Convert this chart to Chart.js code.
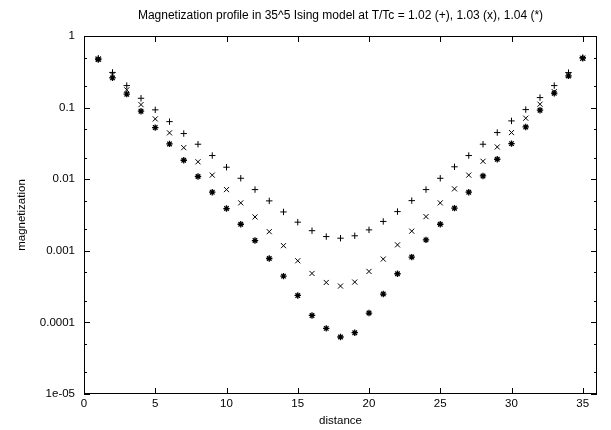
<!DOCTYPE html>
<html>
<head>
<meta charset="utf-8">
<title>Magnetization profile</title>
<script src="https://cdn.jsdelivr.net/npm/chart.js@4.4.1/dist/chart.umd.min.js"></script>
<style>
  html, body { margin: 0; padding: 0; background: #fff; }
  canvas { display: block; }
</style>
</head>
<body>
<canvas id="magChart" width="611" height="430"></canvas>
<script>
// distance from the wall
const distance = [1, 2, 3, 4, 5, 6, 7, 8, 9, 10, 11, 12, 13, 14, 15, 16, 17, 18,
  19, 20, 21, 22, 23, 24, 25, 26, 27, 28, 29, 30, 31, 32, 33, 34, 35];

// T/Tc = 1.02 (+)
const magPlus = [0.49, 0.31, 0.203, 0.135, 0.093, 0.0637, 0.0434, 0.0308, 0.0214,
  0.0147, 0.0103, 0.00716, 0.00498, 0.00349, 0.00251, 0.00191, 0.00158, 0.0015,
  0.00162, 0.00196, 0.00257, 0.00353, 0.00502, 0.00716, 0.0103, 0.0149, 0.0214,
  0.0308, 0.0448, 0.0652, 0.0938, 0.138, 0.203, 0.308, 0.5];

// T/Tc = 1.03 (x)
const magCross = [0.48, 0.286, 0.177, 0.11, 0.0695, 0.0444, 0.0276, 0.0175, 0.0114,
  0.00716, 0.00467, 0.00297, 0.00185, 0.00118, 0.000726, 0.000483, 0.000361, 0.000322,
  0.000366, 0.000515, 0.000766, 0.00121, 0.00188, 0.003, 0.00467, 0.00733, 0.0114,
  0.0178, 0.0282, 0.0448, 0.0711, 0.1115, 0.167, 0.286, 0.49];

// T/Tc = 1.04 (*)
const magStar = [0.47, 0.26, 0.154, 0.089, 0.0526, 0.0311, 0.0184, 0.0109, 0.00658,
  0.00389, 0.00235, 0.00139, 0.000781, 0.000443, 0.000238, 0.000125, 0.0000825, 0.0000625,
  0.0000718, 0.000135, 0.000249, 0.000478, 0.000817, 0.00142, 0.00235, 0.00394, 0.00658,
  0.0111, 0.019, 0.0314, 0.0537, 0.092, 0.159, 0.277, 0.49];

const xTicks = [0, 5, 10, 15, 20, 25, 30, 35];
const yMajor = [1, 0.1, 0.01, 0.001, 0.0001, 0.00001];
const yLabels = ['1', '0.1', '0.01', '0.001', '0.0001', '1e-05'];
const yMinor = [0.5, 0.2, 0.05, 0.02, 0.005, 0.002, 0.0005, 0.0002, 0.00005, 0.00002];

const titleText = 'Magnetization profile in 35^5 Ising model at T/Tc = 1.02 (+), 1.03 (x), 1.04 (*)';

const FONT = '"Liberation Sans", Arial, Helvetica, sans-serif';
const INK = '#000';

function points(ys) {
  return distance.map((d, i) => ({ x: d, y: ys[i] }));
}

// frame with inward tick marks on all four sides, title centred over the plot
const framePlugin = {
  id: 'frame',
  afterDraw(chart) {
    const { ctx, chartArea: a, scales } = chart;
    const xs = scales.x, ys = scales.y;
    ctx.save();
    ctx.strokeStyle = INK;
    ctx.lineWidth = 1;
    ctx.strokeRect(a.left + 0.5, a.top + 0.5, a.right - a.left - 1, a.bottom - a.top - 1);
    ctx.beginPath();
    xTicks.forEach(v => {
      const px = Math.round(xs.getPixelForValue(v)) + 0.5;
      ctx.moveTo(px, a.bottom); ctx.lineTo(px, a.bottom - 6);
      ctx.moveTo(px, a.top); ctx.lineTo(px, a.top + 6);
    });
    yMajor.forEach(v => {
      const py = Math.round(ys.getPixelForValue(v)) + 0.5;
      ctx.moveTo(a.left, py); ctx.lineTo(a.left + 6, py);
      ctx.moveTo(a.right, py); ctx.lineTo(a.right - 6, py);
    });
    yMinor.forEach(v => {
      const py = Math.round(ys.getPixelForValue(v)) + 0.5;
      ctx.moveTo(a.left, py); ctx.lineTo(a.left + 3, py);
      ctx.moveTo(a.right, py); ctx.lineTo(a.right - 3, py);
    });
    ctx.stroke();

    ctx.fillStyle = INK;
    ctx.font = '12px ' + FONT;
    ctx.textAlign = 'center';
    ctx.textBaseline = 'middle';
    ctx.fillText(titleText, (a.left + a.right) / 2, 16);
    ctx.restore();
  }
};

new Chart(document.getElementById('magChart'), {
  type: 'scatter',
  data: {
    datasets: [
      { label: '1.02', data: points(magPlus), pointStyle: 'cross', pointRadius: 3.2,
        borderColor: INK, backgroundColor: INK, pointBorderWidth: 1, showLine: false },
      { label: '1.03', data: points(magCross), pointStyle: 'crossRot', pointRadius: 3.6,
        borderColor: INK, backgroundColor: INK, pointBorderWidth: 1, showLine: false },
      { label: '1.04', data: points(magStar), pointStyle: 'star', pointRadius: 3.2,
        borderColor: INK, backgroundColor: INK, pointBorderWidth: 1.3, showLine: false }
    ]
  },
  options: {
    responsive: false,
    animation: false,
    devicePixelRatio: 1,
    layout: { padding: { left: 0, right: 14, top: 36, bottom: 0 } },
    plugins: {
      legend: { display: false },
      tooltip: { enabled: false },
      title: { display: false }
    },
    scales: {
      x: {
        type: 'linear',
        min: 0,
        max: 36,
        afterBuildTicks: s => { s.ticks = xTicks.map(v => ({ value: v })); },
        afterFit: s => { s.height = 36; },
        grid: { display: false, drawTicks: false },
        border: { display: false },
        ticks: { color: INK, font: { family: FONT, size: 11.5 }, padding: 3, maxRotation: 0 },
        title: { display: true, text: 'distance', color: INK,
          font: { family: FONT, size: 11.5 }, padding: { top: 0, bottom: 2.4 } }
      },
      y: {
        type: 'logarithmic',
        min: 0.00001,
        max: 1,
        afterBuildTicks: s => { s.ticks = yMajor.map(v => ({ value: v })); },
        afterFit: s => { s.width = 84; },
        grid: { display: false, drawTicks: false },
        border: { display: false },
        ticks: {
          color: INK,
          font: { family: FONT, size: 11.5 },
          padding: 9,
          callback: (v) => yLabels[yMajor.findIndex(m => Math.abs(m - v) / m < 1e-6)]
        },
        title: { display: true, text: 'magnetization', color: INK,
          font: { family: FONT, size: 11.5 }, padding: { top: 15, bottom: 0 } }
      }
    }
  },
  plugins: [framePlugin]
});
</script>
</body>
</html>
